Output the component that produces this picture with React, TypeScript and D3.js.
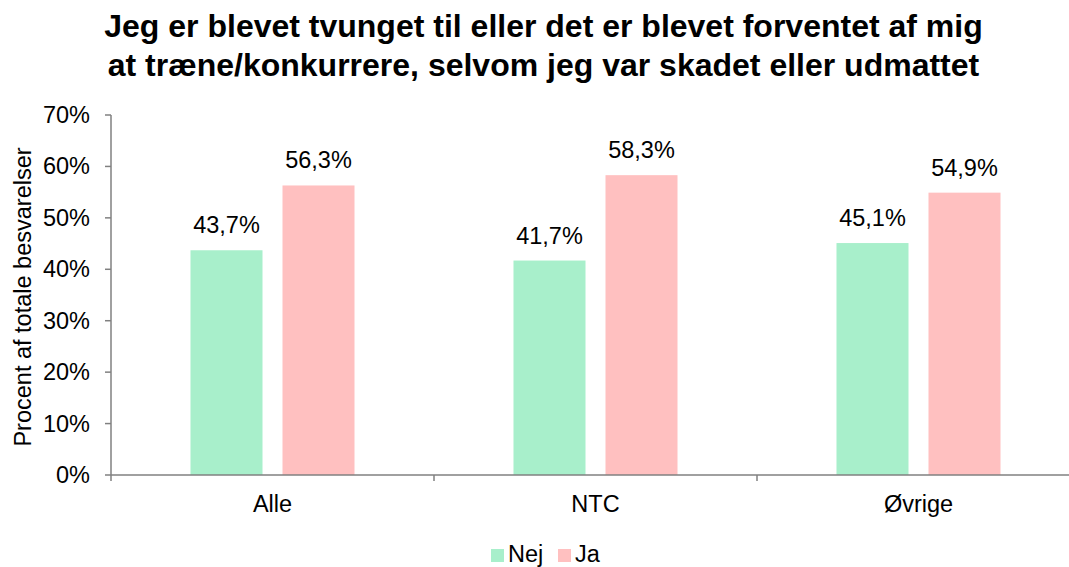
import React from "react";
import * as d3 from "d3";

const categories = ["Alle", "NTC", "Øvrige"];
const seriesNames = ["Nej", "Ja"];
const nejValues = [43.7, 41.7, 45.1];
const jaValues = [56.3, 58.3, 54.9];
const yTicks = [0, 10, 20, 30, 40, 50, 60, 70];
const colors = ["#A8EFCB", "#FFC0C0"];
const titleLines = [
  "Jeg er blevet tvunget til eller det er blevet forventet af mig",
  "at træne/konkurrere, selvom jeg var skadet eller udmattet",
];

const W = 1069;
const H = 567;
const font = "'Liberation Sans', Arial, sans-serif";

export default function App() {
  const left = 111;
  const right = 1080;
  const top = 115;
  const bottom = 475;
  const x0 = d3.scaleBand<string>().domain(categories).range([left, right]).padding(0);
  const x1 = d3
    .scaleBand<string>()
    .domain(seriesNames)
    .range([0, x0.bandwidth()])
    .paddingInner(20 / 92)
    .paddingOuter(0.864);
  const y = d3.scaleLinear().domain([0, 70]).range([bottom, top]);
  const values = [nejValues, jaValues];
  const fmt = (v: number) => v.toFixed(1).replace(".", ",") + "%";
  const axisColor = "#808080";
  const fs = 23.5;

  return (
    <svg width={W} height={H} style={{ position: "absolute", left: 0, top: 0, background: "#fff" }}>
      <g fontFamily={font} fill="#000">
        {titleLines.map((t, i) => (
          <text key={i} x={543.5} y={37 + i * 39} textAnchor="middle" fontSize={32} fontWeight="bold">
            {t}
          </text>
        ))}
        {/* bars */}
        {categories.map((c, ci) =>
          seriesNames.map((s, si) => {
            const v = values[si][ci];
            const bx = (x0(c) as number) + (x1(s) as number);
            return (
              <g key={c + s}>
                <rect x={bx} y={y(v)} width={x1.bandwidth()} height={bottom - y(v)} fill={colors[si]} />
                <text x={bx + x1.bandwidth() / 2} y={y(v) - 17} textAnchor="middle" fontSize={fs}>
                  {fmt(v)}
                </text>
              </g>
            );
          })
        )}
        {/* y axis */}
        <line x1={left} x2={left} y1={top} y2={bottom} stroke={axisColor} strokeWidth={1.5} />
        {yTicks.map((t) => (
          <g key={t}>
            <line x1={left - 6} x2={left} y1={y(t)} y2={y(t)} stroke={axisColor} strokeWidth={1.5} />
            <text x={90} y={y(t) + 8} textAnchor="end" fontSize={fs}>
              {t}%
            </text>
          </g>
        ))}
        {/* x axis */}
        <line x1={left} x2={right} y1={bottom} y2={bottom} stroke={axisColor} strokeWidth={1.5} />
        {categories.map((c) => (
          <line
            key={c}
            x1={x0(c) as number}
            x2={x0(c) as number}
            y1={bottom}
            y2={bottom + 6}
            stroke={axisColor}
            strokeWidth={1.5}
          />
        ))}
        {categories.map((c) => (
          <text key={c} x={(x0(c) as number) + x0.bandwidth() / 2} y={512} textAnchor="middle" fontSize={fs}>
            {c}
          </text>
        ))}
        <text transform={`translate(31, 297) rotate(-90)`} textAnchor="middle" fontSize={fs}>
          Procent af totale besvarelser
        </text>
        {/* legend */}
        {seriesNames.map((s, i) => {
          const lx = i === 0 ? 491 : 558;
          return (
            <g key={s}>
              <rect x={lx} y={549} width={13} height={13} fill={colors[i]} />
              <text x={lx + 17} y={562} fontSize={fs}>
                {s}
              </text>
            </g>
          );
        })}
      </g>
    </svg>
  );
}
